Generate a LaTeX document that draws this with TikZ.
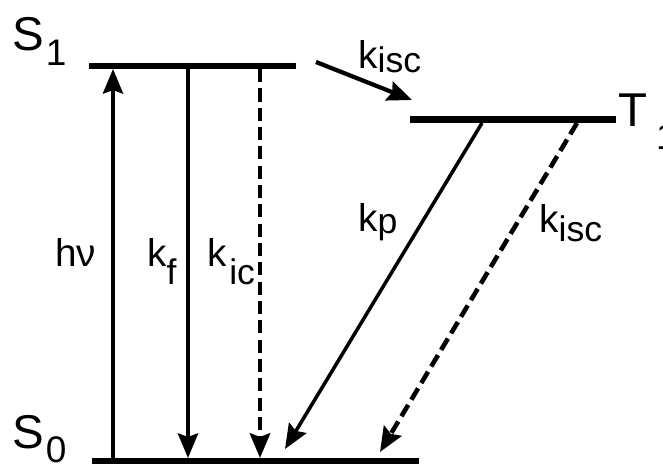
\documentclass[tikz,border=0pt]{standalone}
\usepackage{fontspec}
\setmainfont{Liberation Sans}
\usetikzlibrary{arrows.meta}
\tikzset{level/.style={black,line width=3.6pt},
  rate/.style={black,line width=2pt,-{Stealth[length=14pt,width=11.5pt,inset=2pt]}},
  nonrad/.style={rate,line width=2.6pt,dash pattern=on 7.5pt off 3.5pt},
  lbl/.style={inner sep=0pt,anchor=base west,font=\fontsize{22}{26}\selectfont},
  state/.style={inner sep=0pt,anchor=base west,font=\fontsize{27}{31}\selectfont}}
% lowered index: #1 = drop, #2 = scale, #3 = text
\newcommand{\lo}[3]{\raisebox{-#1}{\scalebox{#2}{#3}}}

\begin{document}
\begin{tikzpicture}
   \useasboundingbox (0,0) rectangle (13.26,9.3);
   % levels
   \coordinate (S1a) at ( 1.78,7.98);
   \coordinate (S1b) at ( 5.92,7.98);
   \coordinate (T1a) at ( 8.20,6.91);
   \coordinate (T1b) at (12.32,6.91);
   \coordinate (S0a) at ( 1.84,0.08);
   \coordinate (S0b) at ( 8.38,0.08);
   \draw[level] (S1a) -- (S1b);
   \draw[level] (T1a) -- (T1b);
   \draw[level] (S0a) -- (S0b);

   \node[state] (s1) at ( 0.24,8.28) {S\hspace{1pt}\lo{8pt}{0.78}{1}};
   \node[state] (s0) at ( 0.24,0.34) {S\hspace{1pt}\lo{8.5pt}{0.78}{0}};
   \node[state] (t1) at (12.36,6.76) {T\hspace{5pt}\lo{13pt}{0.78}{1}};

   % transitions
   \coordinate (hvb) at ( 2.26,0.14);  \coordinate (hvt) at ( 2.26,7.92);
   \coordinate (kft) at ( 3.76,7.92);  \coordinate (kfb) at ( 3.76,0.14);
   \coordinate (kct) at ( 5.20,7.92);  \coordinate (kcb) at ( 5.20,0.14);
   \coordinate (kpt) at ( 9.64,6.84);  \coordinate (kpb) at ( 5.70,0.32);
   \coordinate (kit) at (11.54,6.84);  \coordinate (kib) at ( 7.60,0.26);
   \coordinate (isa) at ( 6.32,8.06);  \coordinate (isb) at ( 8.24,7.30);
   \draw[rate]   (hvb) -- (hvt);
   \draw[rate]   (kft) -- (kfb);
   \draw[nonrad] (kct) -- (kcb);
   \draw[rate]   (kpt) -- (kpb);
   \draw[nonrad] (kit) -- (kib);
   \draw[rate,line width=2.4pt] (isa) -- (isb);

   \node[lbl] (hv)   at ( 1.10,3.96) {hν};
   \node[lbl] (kf)   at ( 2.94,3.96) {k\lo{10pt}{0.92}{f}};
   \node[lbl] (kic)  at ( 4.14,3.96) {k\hspace{1.5pt}\lo{10pt}{0.92}{ic}};
   \node[lbl] (kp)   at ( 7.16,4.66) {k\lo{1pt}{0.92}{p}};
   \node[lbl] (kisc) at (10.78,4.64) {k\lo{5pt}{0.92}{isc}};
   \node[lbl] (kst)  at ( 7.16,7.92) {k\lo{2pt}{0.92}{isc}};
\end{tikzpicture}
\end{document}
